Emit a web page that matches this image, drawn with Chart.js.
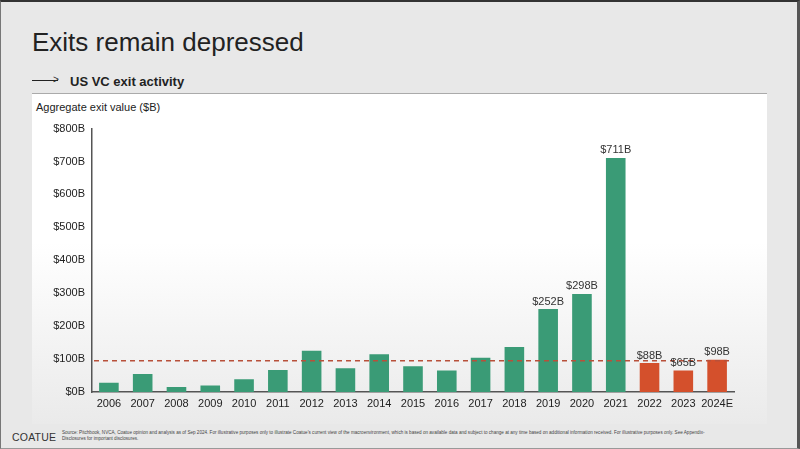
<!DOCTYPE html>
<html>
<head>
<meta charset="utf-8">
<script src="https://cdn.jsdelivr.net/npm/chart.js@4"></script>
<style>
  html, body { margin: 0; padding: 0; }
  body {
    width: 800px; height: 449px; position: relative; overflow: hidden;
    background: #e8e8e8; font-family: "Liberation Sans", Arial, sans-serif;
  }
  .frame {
    position: absolute; left: 0; top: 0; width: 796px; height: 446px;
    border-top: 2px solid #333; border-left: 1px solid #777; border-right: 3px solid #555;
    border-bottom: 1px solid #999;
  }
  .title { position: absolute; left: 32px; top: 27px; font-size: 26px; color: #222; }
  .arrow { position: absolute; left: 32px; top: 80px; width: 26px; height: 1px; background: #222; }
  .arrowhead { position: absolute; left: 53px; top: 74px; font-size: 10px; color: #222; }
  .subtitle { position: absolute; left: 70px; top: 74px; font-size: 13px; font-weight: bold; color: #222; }
  .panel {
    position: absolute; left: 32px; top: 93px; width: 735px; height: 330px;
    border-top: 1.5px solid #aaa;
    background: linear-gradient(to bottom, #ffffff 0%, #ffffff 45%, #eaeaea 100%);
  }
  .ylabel { position: absolute; left: 36px; top: 101px; font-size: 11px; color: #222; }
  .logo { position: absolute; left: 12px; top: 431px; font-size: 10.5px; color: #333; letter-spacing: 0.2px; }
  .source { position: absolute; left: 62px; top: 430px; width: 660px; font-size: 4.6px; line-height: 5.5px; color: #444; }
  #wrap { position: absolute; left: 28px; top: 115px; width: 740px; height: 300px; }
</style>
</head>
<body>
<div class="frame"></div>
<div class="title">Exits remain depressed</div>
<div class="arrow"></div><div class="arrowhead">&gt;</div>
<div class="subtitle">US VC exit activity</div>
<div class="panel"></div>
<div class="ylabel">Aggregate exit value ($B)</div>
<div id="wrap"><canvas id="chart" width="740" height="300"></canvas></div>
<div class="logo">COATUE</div>
<div class="source">Source: Pitchbook, NVCA, Coatue opinion and analysis as of Sep 2024. For illustrative purposes only to illustrate Coatue's current view of the macroenvironment, which is based on available data and subject to change at any time based on additional information received. For illustrative purposes only. See Appendix-Disclosures for important disclosures.</div>
<script>
// data
const years = ['2006','2007','2008','2009','2010','2011','2012','2013','2014','2015','2016','2017','2018','2019','2020','2021','2022','2023','2024E'];
const exitValue = [28, 55, 15, 20, 39, 67, 125, 72, 115, 78, 65, 104, 137, 252, 298, 711, 88, 65, 98];
const labelled = ['2019','2020','2021','2022','2023','2024E'];
const downYears = ['2022','2023','2024E'];
const avgLine = 95;

const green = '#3a9b76';
const red = '#d4502c';

// dashed reference line + value labels
const extras = {
  id: 'extras',
  afterDatasetsDraw(chart) {
    const ctx = chart.ctx;
    const x = chart.scales.x, y = chart.scales.y;
    const yy = y.getPixelForValue(avgLine);
    ctx.save();
    ctx.strokeStyle = '#b8503a';
    ctx.lineWidth = 1.5;
    ctx.setLineDash([5, 4]);
    ctx.beginPath();
    ctx.moveTo(x.left + 2, yy);
    ctx.lineTo(x.right - 4, yy);
    ctx.stroke();
    ctx.setLineDash([]);
    ctx.font = '11px "Liberation Sans", Arial, sans-serif';
    ctx.fillStyle = '#333';
    ctx.textAlign = 'center';
    ctx.textBaseline = 'bottom';
    const meta = chart.getDatasetMeta(0);
    years.forEach((yr, i) => {
      if (!labelled.includes(yr)) return;
      const bar = meta.data[i];
      ctx.fillText('$' + exitValue[i] + 'B', bar.x, bar.y - 2);
    });
    ctx.restore();
  }
};

const chart = new Chart(document.getElementById('chart').getContext('2d'), {
  type: 'bar',
  data: {
    labels: years,
    datasets: [{
      data: exitValue,
      backgroundColor: years.map(y => downYears.includes(y) ? red : green),
      barPercentage: 0.58,
      categoryPercentage: 1.0
    }]
  },
  options: {
    responsive: false,
    animation: false,
    layout: { padding: { top: 7, right: 34, left: 0, bottom: 0 } },
    plugins: { legend: { display: false }, tooltip: { enabled: false } },
    scales: {
      x: {
        grid: { display: false, drawTicks: false },
        border: { color: '#555', width: 1.5 },
        ticks: { color: '#222', font: { size: 11, family: '"Liberation Sans", Arial, sans-serif' }, padding: 5, maxRotation: 0, autoSkip: false },
        afterFit: s => { s.height = 23; }
      },
      y: {
        min: 0, max: 800,
        grid: { display: false, drawTicks: false },
        border: { color: '#555', width: 1.5 },
        ticks: {
          stepSize: 100, color: '#222', padding: 7,
          font: { size: 11, family: '"Liberation Sans", Arial, sans-serif' },
          callback: v => '$' + v + 'B'
        },
        afterFit: s => { s.width = 64; }
      }
    }
  },
  plugins: [extras]
});
</script>
</body>
</html>
